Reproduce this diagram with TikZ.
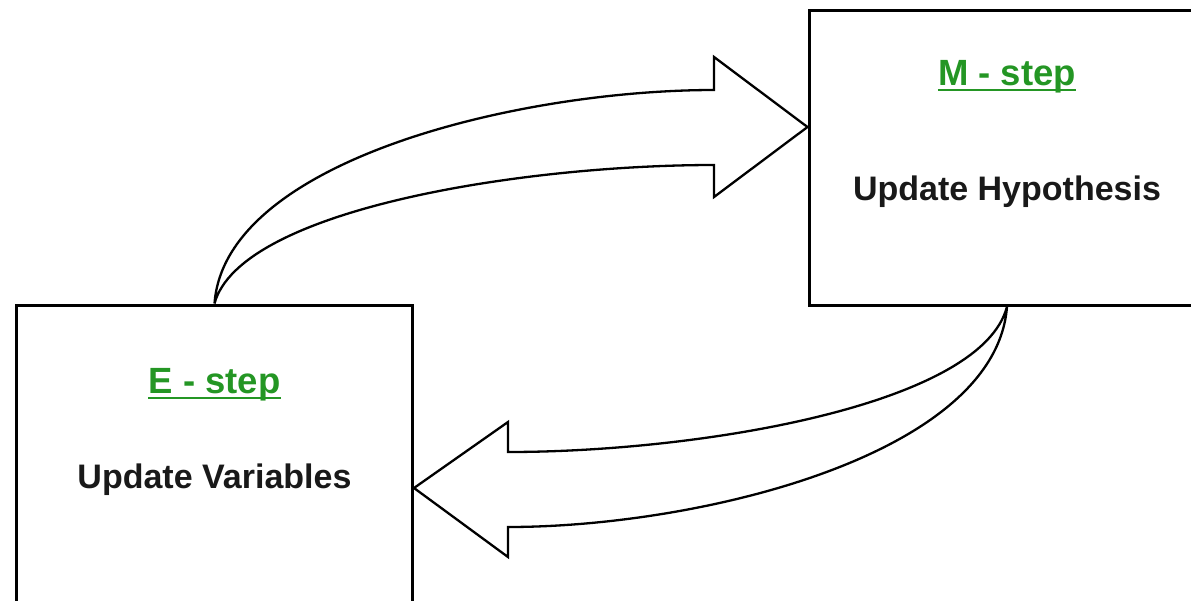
\documentclass[tikz,border=0pt]{standalone}
\usepackage{fontspec}
\setmainfont{Liberation Sans}
\usetikzlibrary{positioning}
\definecolor{stepgreen}{RGB}{36,150,36}
\definecolor{textblack}{RGB}{25,25,25}
\tikzset{
  stepbox/.style={draw, line width=3pt, minimum width=396pt, minimum height=295pt},
  steptitle/.style={anchor=base, inner sep=0pt, text=stepgreen, font=\fontsize{36.5}{42}\selectfont\bfseries},
  steptext/.style={anchor=base, inner sep=0pt, text=textblack, font=\fontsize{34}{40}\selectfont\bfseries},
  stepline/.style={draw=stepgreen, line width=2pt},
  fatarrow/.style={draw, fill=white, line width=2.3pt, line join=miter, miter limit=4},
}

\begin{document}
\begin{tikzpicture}[x=1pt, y=-1pt]
  \useasboundingbox (0,0) rectangle (1191,600);
  \node (ebox) [stepbox, minimum height=300pt] at (214.5,455) {};
  \node (mbox) [stepbox] at (1007,157.5) {};
  \node (etitle) [steptitle] at ([yshift=-90pt]ebox.north) {E - step};
  \node (etext)  [steptext]  at ([yshift=-185pt]ebox.north) {Update Variables};
  \node (mtitle) [steptitle] at ([yshift=-77pt]mbox.north) {M - step};
  \node (mtext)  [steptext]  at ([yshift=-192pt]mbox.north) {Update Hypothesis};
  % underlines of the titles
  \draw[stepline] ([yshift=-4pt]etitle.base west) -- ([yshift=-4pt]etitle.base east);
  \draw[stepline] ([yshift=-4pt]mtitle.base west) -- ([yshift=-4pt]mtitle.base east);
  \coordinate (mtip) at ([yshift=30.5pt]mbox.west);
  \coordinate (etip) at ([yshift=-33pt]ebox.east);
  % E-step to M-step
  \draw[fatarrow] (ebox.north) .. controls (225,160) and (520,90) .. (714,90)
    -- (714,57) -- (mtip) -- (714,197) -- (714,165)
    .. controls (520,165) and (240,210) .. (ebox.north) -- cycle;
  % M-step back to E-step
  \draw[fatarrow] (mbox.south) .. controls (996,455) and (700,527) .. (508,527)
    -- (508,557) -- (etip) -- (508,422) -- (508,452)
    .. controls (700,452) and (982,405) .. (mbox.south) -- cycle;
\end{tikzpicture}
\end{document}
